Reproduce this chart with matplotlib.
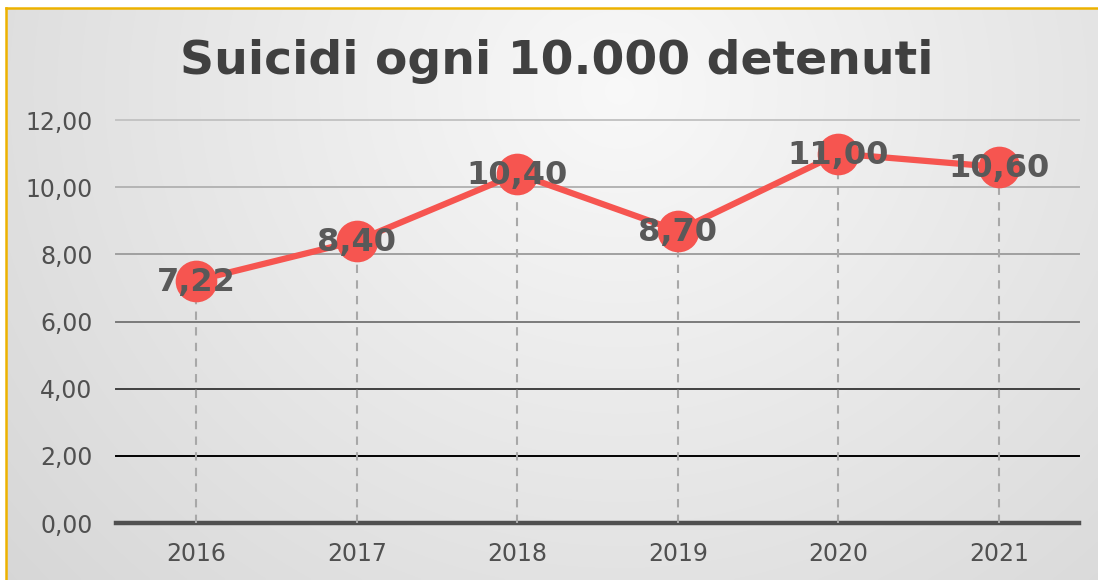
import numpy as np
import matplotlib
matplotlib.use("Agg")
import matplotlib.pyplot as plt
from matplotlib.lines import Line2D

# data
years = ["2016", "2017", "2018", "2019", "2020", "2021"]
suicidi = [7.22, 8.40, 10.40, 8.70, 11.00, 10.60]
yticks = [0, 2, 4, 6, 8, 10, 12]
grid_colors = ["#505050", "#000000", "#404040", "#7a7a7a", "#a0a0a0", "#b4b4b4", "#c4c4c4"]

W, H = 1098, 580
fig = plt.figure(figsize=(W / 100, H / 100), dpi=100)
fig.patch.set_facecolor("white")

# radial gradient background inside the gold frame
bg = fig.add_axes([0, 0, 1, 1], zorder=-10)
bg.set_xlim(0, W)
bg.set_ylim(H, 0)
bg.axis("off")
gx, gy = np.meshgrid(np.linspace(6, W, 400), np.linspace(8, H, 220))
r = np.sqrt(((gx - 620) / 700) ** 2 + ((gy - 90) / 650) ** 2)
shade = np.clip(0.975 - 0.115 * r, 0, 1)
bg.imshow(np.dstack([shade] * 3), extent=[6, W, H, 8], aspect="auto", interpolation="bilinear")
bg.add_line(Line2D([6, 6], [8, H], color="#EDB200", lw=1.8))
bg.add_line(Line2D([6, W], [8, 8], color="#EDB200", lw=1.8))

ax = fig.add_axes([116 / W, 1 - 523 / H, (1079 - 116) / W, (523 - 120) / H])
ax.set_facecolor("none")
x = np.arange(len(years))
ax.set_xlim(-0.5, len(years) - 0.5)
ax.set_ylim(0, 12)

for yv, c in zip(yticks, grid_colors):
    ax.axhline(yv, color=c, lw=3.2 if yv == 0 else 1.4, zorder=1, clip_on=False)

ax.vlines(x, 0, suicidi, color="#a8a8a8", lw=1.5, linestyles=(0, (4, 3.5)), zorder=2)
ax.plot(x, suicidi, color="#F65550", lw=4.5, marker="o", markersize=30,
        markeredgewidth=0, zorder=3)
for xi, v in zip(x, suicidi):
    ax.text(xi, v - 0.05, f"{v:.2f}".replace(".", ","), ha="center", va="center",
            fontsize=23, fontweight="bold", color="#595959", zorder=4)

ax.set_yticks(yticks)
ax.set_yticklabels([f"{v:.2f}".replace(".", ",") for v in yticks])
ax.set_xticks(x)
ax.set_xticklabels(years)
ax.tick_params(length=0, labelsize=17, labelcolor="#505050")
ax.tick_params(axis="y", pad=17)
ax.tick_params(axis="x", pad=14)
for s in ax.spines.values():
    s.set_visible(False)

fig.text(557 / W, 1 - 61 / H, "Suicidi ogni 10.000 detenuti", ha="center", va="center",
         fontsize=34, fontweight="bold", color="#404040")

fig.savefig("out.png", dpi=100)
